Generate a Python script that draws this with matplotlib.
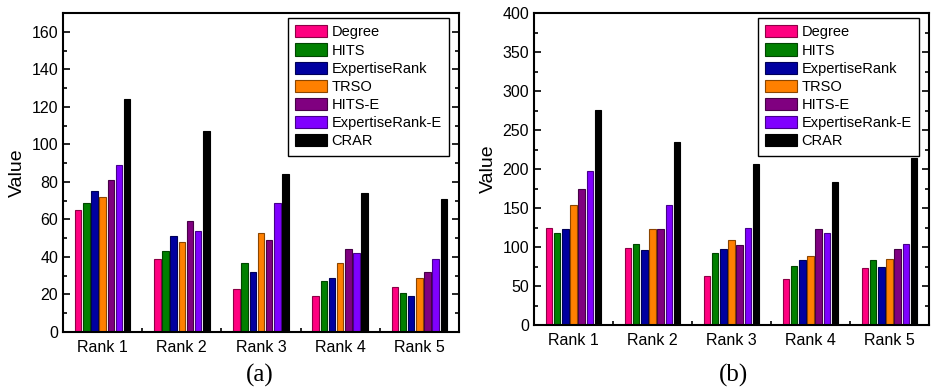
import numpy as np
import matplotlib
matplotlib.use('Agg')
from matplotlib import pyplot as plt
from matplotlib.ticker import MultipleLocator
from matplotlib.colors import to_rgb

plt.rcParams['font.family'] = ['Liberation Sans', 'DejaVu Sans']

ranks = ['Rank 1', 'Rank 2', 'Rank 3', 'Rank 4', 'Rank 5']
methods = ['Degree', 'HITS', 'ExpertiseRank', 'TRSO', 'HITS-E', 'ExpertiseRank-E', 'CRAR']
colors = ['#FF0080', '#008000', '#0000A0', '#FF8000', '#800080', '#8000FF', '#000000']

# panel (a): one list per method, values for Rank 1..5
a_degree = [65, 39, 23, 19, 24]
a_hits = [69, 43, 37, 27, 21]
a_exrank = [75, 51, 32, 29, 19]
a_trso = [72, 48, 53, 37, 29]
a_hitse = [81, 59, 49, 44, 32]
a_exranke = [89, 54, 69, 42, 39]
a_crar = [124, 107, 84, 74, 71]

# panel (b)
b_degree = [124, 99, 63, 59, 73]
b_hits = [118, 104, 92, 76, 83]
b_exrank = [123, 96, 97, 83, 74]
b_trso = [154, 123, 109, 89, 84]
b_hitse = [174, 123, 103, 123, 97]
b_exranke = [197, 154, 124, 118, 104]
b_crar = [276, 234, 207, 183, 214]

panels = [
    ([a_degree, a_hits, a_exrank, a_trso, a_hitse, a_exranke, a_crar], 170, 20, 10, '(a)'),
    ([b_degree, b_hits, b_exrank, b_trso, b_hitse, b_exranke, b_crar], 400, 50, 25, '(b)'),
]
positions = [[63/931, 1-332/389, 396/931, 319/389],
             [534/931, 1-325/389, 395/931, 312/389]]
tag_x = [260/931, 733/931]

fig = plt.figure(figsize=(9.31, 3.89), dpi=100)
x = np.arange(1, len(ranks) + 1)
pitch = 0.103
width = 0.082

for (series, ymax, major, minor, tag), pos, tx in zip(panels, positions, tag_x):
    ax = fig.add_axes(pos)
    for i, (vals, c) in enumerate(zip(series, colors)):
        edge = tuple(v * 0.55 for v in to_rgb(c))
        ax.bar(x + (i - 3) * pitch, vals, width, color=c, edgecolor=edge,
               linewidth=0.8, label=methods[i], zorder=2)
    ax.set_xlim(0.5, 5.5)
    ax.set_ylim(0, ymax)
    ax.set_xticks(x)
    ax.set_xticklabels(ranks)
    ax.xaxis.set_minor_locator(MultipleLocator(0.5))
    ax.yaxis.set_major_locator(MultipleLocator(major))
    ax.yaxis.set_minor_locator(MultipleLocator(minor))
    ax.tick_params(which='both', direction='in', right=True, labelsize=11.5, width=1.2)
    ax.tick_params(which='major', length=5)
    ax.tick_params(which='minor', length=3)
    ax.tick_params(axis='x', which='major', pad=6)
    for s in ax.spines.values():
        s.set_linewidth(1.5)
    ax.set_ylabel('Value', fontsize=14, labelpad=4)
    w_px = pos[2] * 931
    h_px = pos[3] * 389
    leg = ax.legend(loc='upper right', bbox_to_anchor=(1 - 10 / w_px, 1 - 5 / h_px),
                    borderaxespad=0, fontsize=10.5, fancybox=False, edgecolor='black',
                    framealpha=1, handlelength=2.2, handleheight=0.9,
                    labelspacing=0.28, handletextpad=0.3, borderpad=0.5)
    leg.get_frame().set_linewidth(1.0)
    fig.text(tx, 1 - 375 / 389, tag, ha='center', va='center',
             fontsize=18, family=['Liberation Serif', 'DejaVu Serif'])

fig.savefig('out.png', dpi=100)
